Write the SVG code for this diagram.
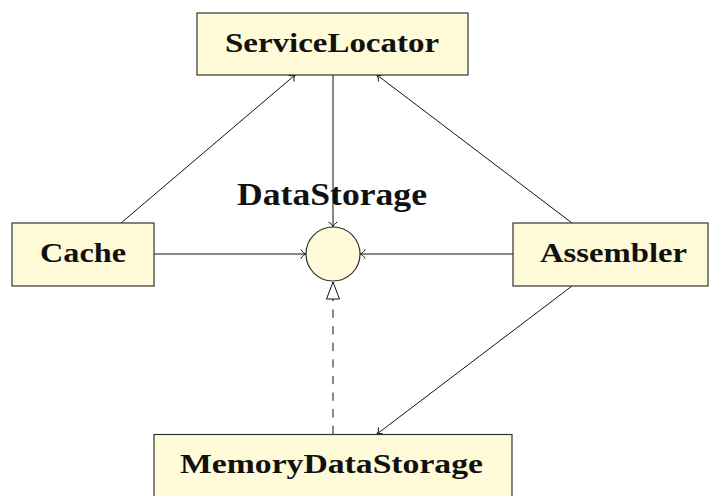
<svg xmlns="http://www.w3.org/2000/svg" width="709" height="496" viewBox="0 0 709 496">
<style>
.box{fill:#fffad8;stroke:#333;stroke-width:1.2}
.lbl{font-family:"Liberation Serif","Times New Roman",serif;font-weight:bold;font-size:28px;fill:#111;text-anchor:middle}
.big{font-size:32px}
.edge{stroke:#111;stroke-width:1;fill:none}
.dash{stroke-dasharray:8.3 8.3}
</style>
<defs>
<marker id="to" markerUnits="userSpaceOnUse" orient="auto" viewBox="-8 -7 10 14" refX="0" refY="0" markerWidth="10" markerHeight="14">
<path d="M -5 -4.5 C -4 -2 -1.5 -0.5 0 0 C -1.5 0.5 -4 2 -5 4.5" fill="none" stroke="#111" stroke-width="1" stroke-dasharray="none"/>
</marker>
<marker id="tri" markerUnits="userSpaceOnUse" orient="auto" viewBox="-19 -8 20 16" refX="0" refY="0" markerWidth="20" markerHeight="16">
<path d="M 0 0 L -17 -6.5 L -17 6.5 Z" fill="#fff" stroke="#111" stroke-width="1" stroke-dasharray="none"/>
</marker>
</defs>
<g id="connectors">
<line class="edge" x1="333" y1="75" x2="333" y2="227" marker-end="url(#to)"/>
<line class="edge" x1="154" y1="254" x2="306" y2="254" marker-end="url(#to)"/>
<line class="edge" x1="513" y1="254" x2="360" y2="254" marker-end="url(#to)"/>
<line class="edge" x1="121" y1="223" x2="295" y2="75" marker-end="url(#to)"/>
<line class="edge" x1="572" y1="223" x2="377" y2="75" marker-end="url(#to)"/>
<line class="edge" x1="572" y1="286" x2="377" y2="434" marker-end="url(#to)"/>
<line class="edge dash" x1="333" y1="434" x2="333" y2="282" marker-end="url(#tri)"/>
</g>
<g id="ServiceLocator">
<rect class="box" x="197" y="13" width="271" height="62"/>
<text class="lbl" x="332" y="52" textLength="214" lengthAdjust="spacingAndGlyphs">ServiceLocator</text>
</g>
<g id="Cache">
<rect class="box" x="12" y="223" width="142" height="63"/>
<text class="lbl" x="83" y="262" textLength="86" lengthAdjust="spacingAndGlyphs">Cache</text>
</g>
<g id="Assembler">
<rect class="box" x="513" y="223" width="195" height="63"/>
<text class="lbl" x="613.5" y="262" textLength="147" lengthAdjust="spacingAndGlyphs">Assembler</text>
</g>
<g id="MemoryDataStorage">
<rect class="box" x="154" y="434.5" width="358" height="70"/>
<text class="lbl" x="331.5" y="473" textLength="303" lengthAdjust="spacingAndGlyphs">MemoryDataStorage</text>
</g>
<g id="DataStorage">
<circle class="box" cx="333" cy="254" r="27" stroke="#111"/>
<text class="lbl big" x="332" y="204.5" textLength="190" lengthAdjust="spacingAndGlyphs">DataStorage</text>
</g>
</svg>
